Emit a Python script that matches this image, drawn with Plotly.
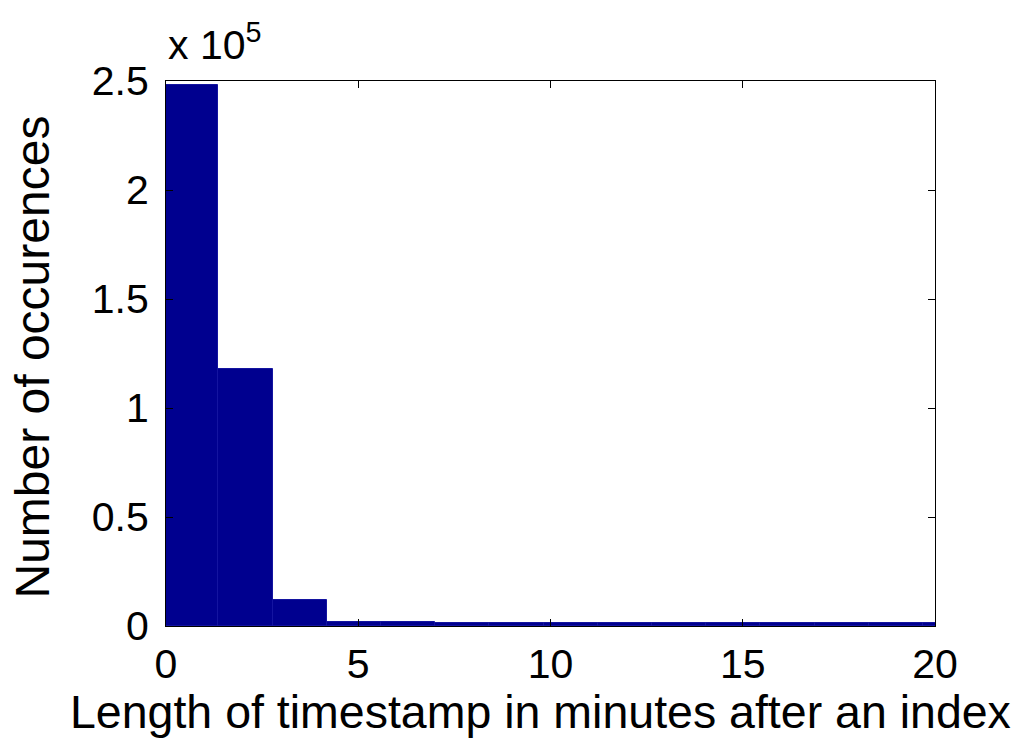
import plotly.graph_objects as go

# Histogram bin centres (minutes) and counts
bin_centers = [0.655, 2.065, 3.475, 4.885, 6.295, 7.705, 9.115, 10.525,
               11.935, 13.345, 14.755, 16.165, 17.575, 18.985, 20.395]
counts = [248000, 118000, 12000, 1800, 1700, 1600, 1600, 1500,
          1500, 1500, 1400, 1400, 1400, 1400, 1400]
bin_width = 1.41

x_ticks = [0, 5, 10, 15, 20]
y_tickvals = [0, 50000, 100000, 150000, 200000, 250000]
y_ticktext = ["0", "0.5", "1", "1.5", "2", "2.5"]

x_title = "Length of timestamp in minutes after an index"
y_title = "Number of occurences"

FONT = "Liberation Sans, Arial, sans-serif"
BAR = "rgb(0,0,143)"
TICK_SIZE = 41

fig = go.Figure()
fig.add_trace(go.Bar(
    x=bin_centers, y=counts, width=bin_width,
    marker=dict(color=BAR, line=dict(color="rgb(20,20,160)", width=1)),
    showlegend=False,
))

fig.update_layout(
    width=1027, height=753,
    margin=dict(l=158, r=100, t=73, b=135),
    paper_bgcolor="white", plot_bgcolor="white",
    font=dict(family=FONT, size=TICK_SIZE, color="black"),
    bargap=0,
    xaxis=dict(
        range=[0, 20], tickvals=x_ticks, ticks="inside", ticklen=7,
        tickcolor="black", showline=True, linecolor="black", linewidth=1,
        mirror="ticks", showgrid=False, zeroline=False,
        tickfont=dict(size=TICK_SIZE), ticklabelstandoff=2,
    ),
    yaxis=dict(
        range=[0, 250000], tickvals=y_tickvals, ticktext=y_ticktext,
        ticks="inside", ticklen=7, tickcolor="black",
        showline=True, linecolor="black", linewidth=1, mirror="ticks",
        showgrid=False, zeroline=False,
        tickfont=dict(size=TICK_SIZE),
        ticklabelstandoff=8,
    ),
    annotations=[
        dict(text="x 10<sup>5</sup>", xref="paper", yref="paper",
             x=0.0, y=1.0, xanchor="left", yanchor="bottom", showarrow=False,
             font=dict(size=TICK_SIZE, family=FONT), yshift=11),
        dict(text=x_title, xref="paper", yref="paper",
             x=0.487, y=0.0, xanchor="center", yanchor="middle",
             showarrow=False, font=dict(size=46.5, family=FONT), yshift=-86),
        dict(text=y_title, xref="paper", yref="paper", textangle=-90,
             x=0.0, y=0.5, xanchor="center", yanchor="middle",
             showarrow=False, font=dict(size=48, family=FONT), xshift=-134,
             yshift=-4),
    ],
)

fig.write_html("out.html")
